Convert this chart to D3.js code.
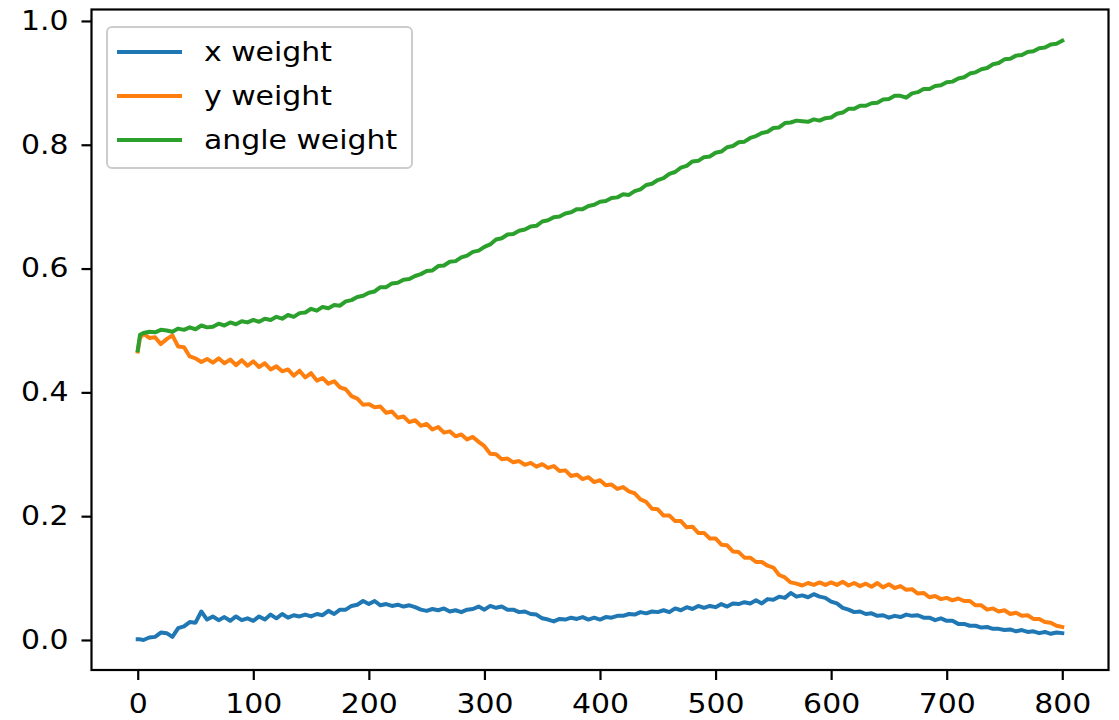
<!DOCTYPE html>
<html>
<head>
<meta charset="utf-8">
<script src="https://cdn.jsdelivr.net/npm/d3@7"></script>
<style>
  html, body { margin: 0; padding: 0; background: #fff; }
  svg { display: block; }
  text { font-family: "DejaVu Sans", sans-serif; fill: #000; }
</style>
</head>
<body>
<svg id="chart" width="1119" height="720"></svg>
<script>
// ---- data ----
const steps = [0, 2].concat(d3.range(5, 801, 5));

const angleWeight = [0.468,0.493,
0.496,0.498,0.497,0.501,0.500,0.498,0.503,0.501,0.505,0.502,
0.508,0.505,0.506,0.511,0.508,0.513,0.510,0.515,0.513,0.517,
0.514,0.519,0.517,0.522,0.519,0.525,0.522,0.528,0.529,0.535,
0.532,0.538,0.536,0.541,0.540,0.547,0.549,0.554,0.556,0.561,
0.563,0.570,0.570,0.576,0.577,0.582,0.583,0.588,0.591,0.596,
0.597,0.604,0.605,0.611,0.612,0.618,0.621,0.627,0.629,0.635,
0.639,0.647,0.649,0.655,0.656,0.661,0.663,0.668,0.669,0.676,
0.678,0.683,0.684,0.689,0.691,0.696,0.696,0.701,0.703,0.708,
0.709,0.714,0.715,0.720,0.719,0.725,0.728,0.735,0.737,0.743,
0.746,0.753,0.756,0.763,0.766,0.773,0.774,0.780,0.781,0.787,
0.789,0.796,0.798,0.804,0.805,0.811,0.814,0.819,0.821,0.827,
0.828,0.835,0.836,0.839,0.838,0.837,0.841,0.839,0.843,0.844,
0.850,0.852,0.858,0.858,0.863,0.863,0.867,0.868,0.873,0.874,
0.879,0.879,0.876,0.883,0.885,0.890,0.890,0.895,0.896,0.901,
0.902,0.907,0.909,0.915,0.917,0.922,0.924,0.930,0.932,0.938,
0.939,0.944,0.945,0.950,0.951,0.956,0.957,0.962,0.963,0.968];

const yWeight = [0.466,0.488,
0.495,0.488,0.489,0.478,0.486,0.492,0.474,0.473,0.458,0.455,
0.449,0.454,0.448,0.455,0.447,0.453,0.444,0.452,0.443,0.450,
0.441,0.447,0.437,0.442,0.434,0.437,0.427,0.435,0.424,0.431,
0.419,0.423,0.414,0.418,0.408,0.405,0.394,0.390,0.380,0.381,
0.376,0.377,0.367,0.369,0.359,0.361,0.352,0.355,0.346,0.349,
0.340,0.344,0.335,0.337,0.329,0.332,0.324,0.328,0.320,0.313,
0.301,0.300,0.292,0.293,0.287,0.289,0.283,0.286,0.280,0.284,
0.278,0.281,0.273,0.274,0.265,0.267,0.260,0.263,0.255,0.258,
0.250,0.251,0.244,0.247,0.240,0.237,0.227,0.223,0.212,0.211,
0.201,0.201,0.192,0.192,0.182,0.183,0.173,0.173,0.164,0.164,
0.154,0.153,0.143,0.142,0.133,0.133,0.126,0.126,0.120,0.117,
0.105,0.101,0.093,0.091,0.088,0.092,0.089,0.093,0.089,0.093,
0.089,0.094,0.088,0.092,0.087,0.091,0.086,0.092,0.085,0.090,
0.084,0.087,0.081,0.082,0.075,0.076,0.069,0.071,0.066,0.068,
0.064,0.067,0.063,0.063,0.056,0.056,0.049,0.051,0.046,0.048,
0.042,0.044,0.039,0.040,0.034,0.034,0.029,0.028,0.023,0.021];

const xWeight = [0.001,0.001,
0.000,0.004,0.005,0.012,0.011,0.005,0.019,0.022,0.029,0.028,
0.046,0.033,0.038,0.032,0.037,0.031,0.038,0.032,0.035,0.031,
0.038,0.033,0.041,0.035,0.042,0.036,0.040,0.038,0.041,0.038,
0.042,0.040,0.047,0.042,0.049,0.049,0.055,0.057,0.063,0.058,
0.063,0.056,0.058,0.055,0.057,0.054,0.056,0.053,0.049,0.047,
0.050,0.048,0.051,0.046,0.048,0.045,0.049,0.050,0.054,0.049,
0.055,0.052,0.054,0.049,0.049,0.045,0.046,0.042,0.041,0.035,
0.033,0.030,0.034,0.033,0.036,0.034,0.037,0.033,0.036,0.033,
0.037,0.036,0.039,0.039,0.042,0.041,0.045,0.043,0.046,0.045,
0.048,0.045,0.051,0.048,0.053,0.050,0.055,0.052,0.055,0.053,
0.058,0.054,0.059,0.058,0.061,0.059,0.064,0.059,0.066,0.065,
0.070,0.068,0.076,0.070,0.072,0.069,0.074,0.070,0.068,0.062,
0.059,0.052,0.049,0.045,0.046,0.042,0.043,0.039,0.040,0.036,
0.039,0.037,0.041,0.039,0.040,0.036,0.036,0.032,0.035,0.031,
0.031,0.026,0.026,0.023,0.023,0.020,0.021,0.018,0.018,0.016,
0.017,0.014,0.016,0.013,0.014,0.011,0.013,0.010,0.012,0.011];

const seriesNames = ["x weight", "y weight", "angle weight"];
const seriesColors = ["#1f77b4", "#ff7f0e", "#2ca02c"];
const xTicks = [0, 100, 200, 300, 400, 500, 600, 700, 800];
const yTicks = [0.0, 0.2, 0.4, 0.6, 0.8, 1.0];

// ---- drawing ----
const svg = d3.select("#chart");
const mLeft = 91.5, mRight = 1108.5, mTop = 9.5, mBottom = 670;
const stretch = 1.15;   // reference glyphs are widened horizontally

const x = d3.scaleLinear().domain([-40, 840]).range([mLeft, mRight]);
const y = d3.scaleLinear().domain([-0.0485, 1.0185]).range([mBottom, mTop]);

const allSeries = [xWeight, yWeight, angleWeight];
const line = d3.line().x((d, i) => x(steps[i])).y(d => y(d));

const plot = svg.append("g");
allSeries.forEach((vals, k) => {
  plot.append("path")
    .datum(vals)
    .attr("fill", "none")
    .attr("stroke", seriesColors[k])
    .attr("stroke-width", 4)
    .attr("stroke-linejoin", "round")
    .attr("stroke-linecap", "square")
    .attr("d", line);
});

// axes
const xAxis = d3.axisBottom(x).tickValues(xTicks).tickFormat(d3.format("d"))
  .tickSize(10).tickPadding(15);
const yAxis = d3.axisLeft(y).tickValues(yTicks).tickFormat(d3.format(".1f"))
  .tickSize(10).tickPadding(13);

const gx = svg.append("g").attr("transform", `translate(0,${mBottom})`).call(xAxis);
const gy = svg.append("g").attr("transform", `translate(${mLeft},0)`).call(yAxis);
[gx, gy].forEach(g => {
  g.select(".domain").remove();
  g.selectAll(".tick line").attr("stroke", "#000").attr("stroke-width", 2.2);
  g.selectAll(".tick text")
    .attr("font-size", 26).attr("font-family", "DejaVu Sans").attr("fill", "#000")
    .each(function () {
      const t = d3.select(this);
      const ax = +t.attr("x") || 0;
      t.attr("transform", `translate(${ax},0) scale(${stretch},1) translate(${-ax},0)`);
    });
});

// spines
svg.append("rect")
  .attr("x", mLeft).attr("y", mTop)
  .attr("width", mRight - mLeft).attr("height", mBottom - mTop)
  .attr("fill", "none").attr("stroke", "#000").attr("stroke-width", 2.2);

// legend
const lg = svg.append("g");
lg.append("rect")
  .attr("x", 107).attr("y", 27).attr("width", 305).attr("height", 141)
  .attr("rx", 5).attr("fill", "#fff").attr("fill-opacity", 0.8)
  .attr("stroke", "#cccccc").attr("stroke-width", 2);
const rowsY = [52, 96, 140];
seriesNames.forEach((name, k) => {
  lg.append("line")
    .attr("x1", 117).attr("x2", 182)
    .attr("y1", rowsY[k]).attr("y2", rowsY[k])
    .attr("stroke", seriesColors[k]).attr("stroke-width", 4);
  lg.append("text")
    .attr("transform", `translate(204,${rowsY[k]}) scale(${stretch},1)`)
    .attr("dy", "0.35em")
    .attr("font-size", 26)
    .text(name);
});
</script>
</body>
</html>
